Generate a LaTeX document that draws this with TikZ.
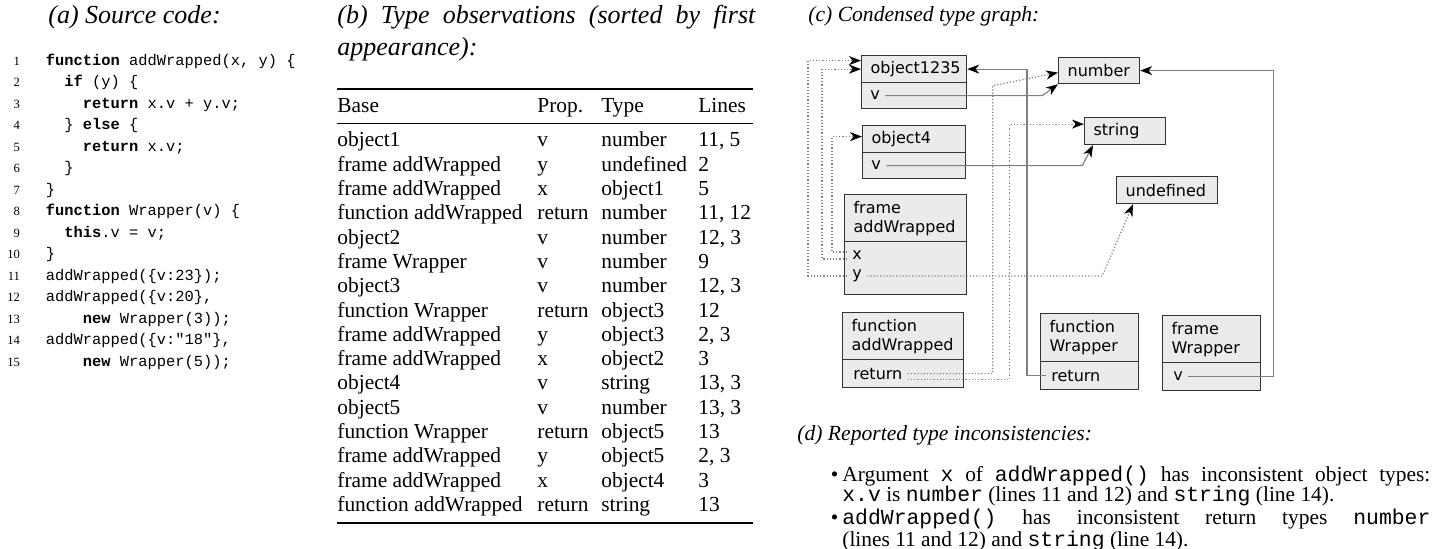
\documentclass[tikz,border=0pt]{standalone}
\usepackage{fontspec}
\usepackage{array, booktabs}
\setmainfont{Liberation Serif}
\setmonofont{Liberation Mono}
\newfontfamily\graphfont{DejaVu Sans}
\usetikzlibrary{arrows.meta}
\definecolor{boxfill}{gray}{0.92}
\definecolor{boxline}{gray}{0.2}
\definecolor{wire}{gray}{0.5}

\begin{document}
\begin{tikzpicture}[x = 0.5pt, y = -0.5pt,
                    cell/.style = {draw = boxline, fill = boxfill, line width = 0.6pt, anchor = north west,
                                   inner xsep = 4.5pt, inner ysep = 0pt, align = left,
                                   font = \graphfont\fontsize{8}{9.5}\selectfont},
                    lbl/.style = {anchor = west, inner xsep = 2.5pt, inner ysep = 1pt,
                                  font = \graphfont\fontsize{8}{9.5}\selectfont},
                    heading/.style = {anchor = base west, inner sep = 0pt, font = \fontsize{10.8}{14.5}\selectfont\itshape},
                    bigheading/.style = {heading, font = \fontsize{13}{16}\selectfont\itshape},
                    link/.style = {draw = wire, line width = 0.6pt,
                                   -{Stealth[length = 6pt, width = 4.5pt, inset = 1.8pt, color = black]}},
                    ptr/.style = {link, densely dotted}]
                        \useasboundingbox (0, 0) rectangle (1437, 548);

                        \node [bigheading] (capa) at (48, 23) {(a) Source code:};
                        \node [bigheading, text width = 209pt, align = justify] (capb) at (337, 23)
                              {(b) Type observations (sorted by first\linebreak appearance):};
                        \node [heading] (capc) at (808, 21) {(c) Condensed type graph:};
                        \node [heading] (capd) at (797, 440) {(d) Reported type inconsistencies:};

                        \node [anchor = base west, inner sep = 0pt] (listing) at (7, 65) {%
                              \fontsize{7.7}{10.75}\selectfont
                              \begin{tabular}[t]{@{}>{\rmfamily\fontsize{6.3}{10.75}\selectfont}r@{\hspace{13pt}}>{\ttfamily}l@{}}
                              1 & \textbf{function} addWrapped(x, y) \{\\
                              2 & \hphantom{xx}\textbf{if} (y) \{\\
                              3 & \hphantom{xxxx}\textbf{return} x.v + y.v;\\
                              4 & \hphantom{xx}\} \textbf{else} \{\\
                              5 & \hphantom{xxxx}\textbf{return} x.v;\\
                              6 & \hphantom{xx}\}\\
                              7 & \}\\
                              8 & \textbf{function} Wrapper(v) \{\\
                              9 & \hphantom{xx}\textbf{this}.v = v;\\
                              10 & \}\\
                              11 & addWrapped(\{v:23\});\\
                              12 & addWrapped(\{v:20\},\\
                              13 & \hphantom{xxxx}\textbf{new} Wrapper(3));\\
                              14 & addWrapped(\{v:"18"\},\\
                              15 & \hphantom{xxxx}\textbf{new} Wrapper(5));
                              \end{tabular}};

                        \node [anchor = north west, inner sep = 0pt] (obs) at (337, 88) {%
                              \fontsize{10.7}{12.15}\selectfont
                              \begin{tabular}{@{}p{100pt}@{}p{32pt}@{}p{48.5pt}@{}p{27.5pt}@{}}
                              \toprule
                              Base & Prop. & Type & Lines\\
                              \midrule
                              object1 & v & number & 11, 5\\
                              frame addWrapped & y & undefined & 2\\
                              frame addWrapped & x & object1 & 5\\
                              function addWrapped & return & number & 11, 12\\
                              object2 & v & number & 12, 3\\
                              frame Wrapper & v & number & 9\\
                              object3 & v & number & 12, 3\\
                              function Wrapper & return & object3 & 12\\
                              frame addWrapped & y & object3 & 2, 3\\
                              frame addWrapped & x & object2 & 3\\
                              object4 & v & string & 13, 3\\
                              object5 & v & number & 13, 3\\
                              function Wrapper & return & object5 & 13\\
                              frame addWrapped & y & object5 & 2, 3\\
                              frame addWrapped & x & object4 & 3\\
                              function addWrapped & return & string & 13\\
                              \bottomrule
                              \end{tabular}};

                        \node [cell, text width = 43.5pt, minimum height = 13.5pt] (obj1235) at (861, 55) {object1235};
                        \node [cell, text width = 43.5pt, minimum height = 13pt] (obj1235row) at (861, 82) {};
                        \node [lbl] (obj1235v) at ([xshift = 2pt] obj1235row.west) {v};
                        \node [cell, text width = 42.5pt, minimum height = 13.5pt] (obj4) at (862, 125) {object4};
                        \node [cell, text width = 42.5pt, minimum height = 13pt] (obj4row) at (862, 152) {};
                        \node [lbl] (obj4v) at ([xshift = 2pt] obj4row.west) {v};
                        \node [cell, text width = 52pt, minimum height = 23.5pt] (frameAW) at (844, 194) {frame\\addWrapped};
                        \node [cell, text width = 52pt, minimum height = 26.5pt] (frameAWrow) at (844, 241) {};
                        \node [lbl] (frameAWx) at (847, 255) {x};
                        \node [lbl] (frameAWy) at (847, 276) {y};

                        \node [cell, text width = 31.5pt, minimum height = 13pt] (num) at (1058, 57) {number};
                        \node [cell, text width = 31.5pt, minimum height = 13.5pt] (str) at (1084, 117) {string};
                        \node [cell, text width = 41.5pt, minimum height = 13.5pt] (undef) at (1116, 176) {undefined};

                        \node [cell, text width = 51.5pt, minimum height = 23.5pt] (funcAW) at (842, 312) {function\\addWrapped};
                        \node [cell, text width = 51.5pt, minimum height = 14pt] (funcAWrow) at (842, 359) {};
                        \node [lbl] (funcAWret) at ([xshift = 3pt] funcAWrow.west) {return};
                        \node [cell, text width = 40pt, minimum height = 24pt] (funcW) at (1040, 313) {function\\Wrapper};
                        \node [cell, text width = 40pt, minimum height = 14pt] (funcWrow) at (1040, 361) {};
                        \node [lbl] (funcWret) at ([xshift = 3pt] funcWrow.west) {return};
                        \node [cell, text width = 40pt, minimum height = 23.5pt] (frameW) at (1162, 315) {frame\\Wrapper};
                        \node [cell, text width = 40pt, minimum height = 14pt] (frameWrow) at (1162, 362) {};
                        \node [lbl] (frameWv) at ([xshift = 3pt] frameWrow.west) {v};

                        \draw [ptr] (frameAWy.west) -- ++(-39, 0) |- ([yshift = 4.25pt] obj1235.west);
                        \draw [ptr] ([yshift = -2pt] frameAWx.west) -- ++(-25, 0) |- (obj1235.west);
                        \draw [ptr] ([yshift = 1.5pt] frameAWx.west) -- ++(-15, 0) |- ([yshift = 1.25pt] obj4.west);
                        \draw [ptr] (frameAWy.east) -- ++(235, 0) -- ([xshift = 8.5pt] undef.south west);
                        \draw [link] (obj1235v.east) -- ++(157, 0) -- (num.south west);
                        \draw [link] (obj4v.east) -- ++(196, 0) -- ([xshift = 4.5pt] str.south west);
                        \draw [ptr] (funcAWret.east) -- ++(85, 0) -- ++(0, -288) -- ([yshift = -1pt] num.west);
                        \draw [ptr] ([yshift = -3pt] funcAWret.east) -- ++(102, 0) |- ([yshift = 3.5pt] str.west);
                        \draw [link] (funcWret.west) -- ++(-19, 0) |- (obj1235.east);
                        \draw [link] (frameWv.east) -- ++(85, 0) |- (num.east);

                        \node [anchor = base west, inner sep = 0pt, text width = 294pt, align = justify,
                               font = \fontsize{10.7}{10}\selectfont] (issues) at (842, 481) {%
                              \lineskiplimit = -5pt \setlength{\parskip}{0.5pt}%
                              \noindent\llap{\textbullet\hspace{2pt}}Argument \texttt{x} of \texttt{addWrapped()} has inconsistent object types:\linebreak
                              \texttt{x.v} is \texttt{number} (lines 11 and 12) and \texttt{string} (line 14).\par
                              \noindent\llap{\textbullet\hspace{2pt}}\texttt{addWrapped()} has inconsistent return types \texttt{number}\linebreak
                              (lines 11 and 12) and \texttt{string} (line 14).};
                  \end{tikzpicture}
\end{document}
